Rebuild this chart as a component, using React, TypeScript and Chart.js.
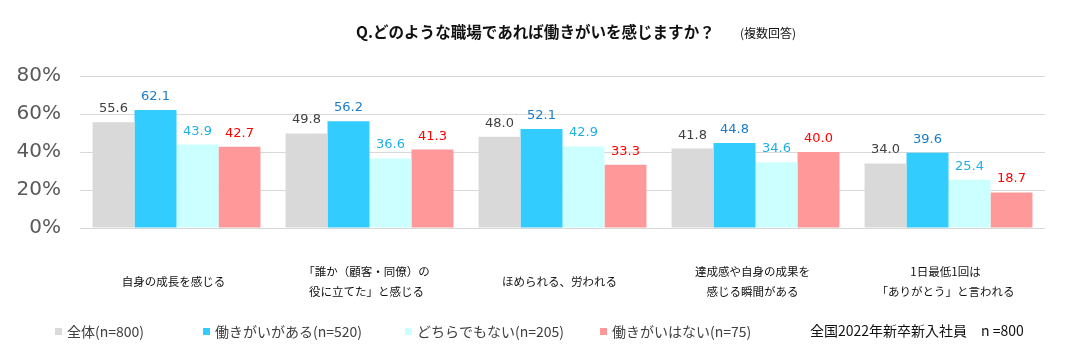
import React, { useEffect, useRef } from "react";
import { Chart, registerables } from "chart.js";

Chart.register(...registerables);

const categories: string[][] = [
  ["自身の成長を感じる"],
  ["「誰か（顧客・同僚）の", "役に立てた」と感じる"],
  ["ほめられる、労われる"],
  ["達成感や自身の成果を", "感じる瞬間がある"],
  ["1日最低1回は", "「ありがとう」と言われる"],
];

const seriesNames = [
  "全体(n=800)",
  "働きがいがある(n=520)",
  "どちらでもない(n=205)",
  "働きがいはない(n=75)",
];
const allValues = [55.6, 49.8, 48.0, 41.8, 34.0];
const yesValues = [62.1, 56.2, 52.1, 44.8, 39.6];
const neutralValues = [43.9, 36.6, 42.9, 34.6, 25.4];
const noValues = [42.7, 41.3, 33.3, 40.0, 18.7];

const barColors = ["#D9D9D9", "#33CCFF", "#CCFFFF", "#FF9999"];
const labelColors = ["#404040", "#1A7CC9", "#1FB0E8", "#FF0000"];
const legendX = [55, 203, 405, 600];

const yTicks = [0, 20, 40, 60, 80];

const titleText = "Q.どのような職場であれば働きがいを感じますか？";
const subTitleText = "(複数回答)";
const noteText = "全国2022年新卒新入社員　n =800";

const JP = '"Noto Sans CJK JP", "Noto Sans", sans-serif';

function fitFont(ctx: CanvasRenderingContext2D, text: string, weight: string, base: number, target: number) {
  ctx.font = weight + base + "px " + JP;
  const w = ctx.measureText(text).width;
  const size = (base * target) / w;
  ctx.font = weight + size.toFixed(2) + "px " + JP;
}

export default function App() {
  const ref = useRef<HTMLCanvasElement | null>(null);

  useEffect(() => {
    if (!ref.current) return;
    const values = [allValues, yesValues, neutralValues, noValues];

    const overlay = {
      id: "overlay",
      afterDatasetsDraw(chart: any) {
        const ctx = chart.ctx as CanvasRenderingContext2D;
        ctx.save();
        // value labels
        ctx.font = '13px "DejaVu Sans", sans-serif';
        ctx.textAlign = "center";
        ctx.textBaseline = "alphabetic";
        chart.data.datasets.forEach((ds: any, i: number) => {
          const meta = chart.getDatasetMeta(i);
          ctx.fillStyle = labelColors[i];
          meta.data.forEach((bar: any, j: number) => {
            ctx.fillText((ds.data[j] as number).toFixed(1), bar.x, bar.y - 10);
          });
        });
        // category labels
        const xs = chart.scales.x;
        ctx.font = "11.5px " + JP;
        ctx.fillStyle = "#111";
        ctx.textBaseline = "middle";
        categories.forEach((lines, j) => {
          const cx = xs.getPixelForValue(j) - 3;
          const lh = 20;
          const y0 = 282 - ((lines.length - 1) * lh) / 2;
          lines.forEach((ln, k) => ctx.fillText(ln, cx, y0 + k * lh));
        });
        // title
        ctx.textAlign = "left";
        ctx.fillStyle = "#111";
        fitFont(ctx, titleText, "bold ", 15, 359);
        ctx.fillText(titleText, 356, 32);
        ctx.font = "12px " + JP;
        ctx.fillText(subTitleText, 740, 33);
        // legend
        ctx.font = "14px " + JP;
        seriesNames.forEach((name, i) => {
          ctx.fillStyle = barColors[i];
          ctx.fillRect(legendX[i], 328, 7, 7);
          ctx.fillStyle = "#404040";
          ctx.fillText(name, legendX[i] + 12, 332);
        });
        ctx.fillStyle = "#111";
        ctx.fillText(noteText, 810, 331);
        ctx.restore();
      },
    };

    const chart = new Chart(ref.current, {
      type: "bar",
      data: {
        labels: categories.map((c) => c.join("")),
        datasets: seriesNames.map((name, i) => ({
          label: name,
          data: values[i],
          backgroundColor: barColors[i],
          borderWidth: 0,
          categoryPercentage: 0.87,
          barPercentage: 1,
        })),
      },
      options: {
        responsive: false,
        animation: false,
        layout: { padding: { left: 0, top: 76, right: 25, bottom: 120 } },
        plugins: {
          legend: { display: false },
          title: { display: false },
          tooltip: { enabled: false },
        },
        scales: {
          x: {
            ticks: { display: false },
            grid: { display: false },
            border: { display: false },
          },
          y: {
            min: 0,
            max: 80,
            afterBuildTicks(scale: any) {
              scale.ticks = yTicks.map((v) => ({ value: v }));
            },
            afterFit(scale: any) {
              scale.width = 80;
            },
            ticks: {
              padding: 19,
              color: "#595959",
              font: { size: 20, family: '"DejaVu Sans", sans-serif' },
              callback: (v: any) => v + "%",
            },
            grid: { color: "#D9D9D9", lineWidth: 1, drawTicks: false },
            border: { display: false },
          },
        },
      },
      plugins: [overlay],
    });
    return () => chart.destroy();
  }, []);

  return (
    <div style={{ position: "absolute", left: 0, top: 0, width: 1070, height: 356, background: "#fff" }}>
      <canvas ref={ref} width={1070} height={356} />
    </div>
  );
}
